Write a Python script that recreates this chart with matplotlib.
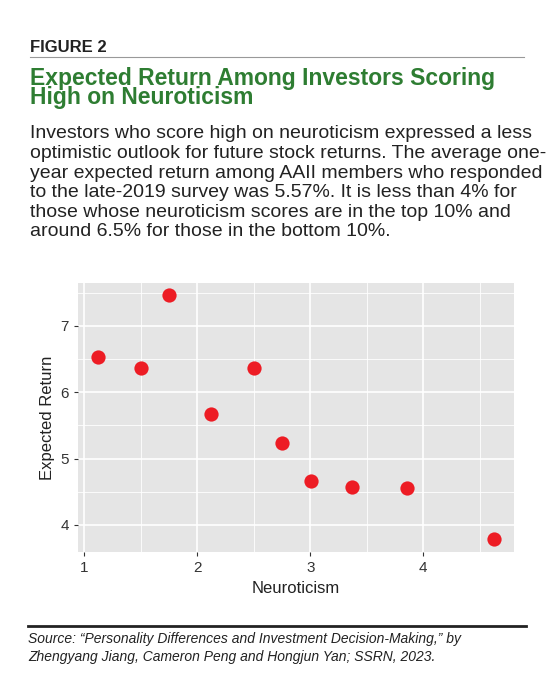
import matplotlib
matplotlib.use("Agg")
import matplotlib.pyplot as plt
from matplotlib.lines import Line2D

neuroticism = [1.118, 1.50, 1.752, 2.124, 2.50, 2.752, 3.003, 3.372, 3.861, 4.628]
expected_return = [6.53, 6.37, 7.46, 5.67, 6.37, 5.23, 4.66, 4.57, 4.56, 3.79]
xticks = [1, 2, 3, 4]
yticks = [4, 5, 6, 7]

plt.rcParams['font.family'] = ['Liberation Sans', 'DejaVu Sans']
W, H = 554, 688
fig = plt.figure(figsize=(W/100, H/100), dpi=100)

def fx(p): return p / W
def fy(p): return 1 - p / H

narrow = ['Liberation Sans Narrow', 'Liberation Sans', 'DejaVu Sans']
fig.text(fx(30), fy(47), "FIGURE 2", fontsize=12, fontweight='bold', va='center', color='#222')
fig.add_artist(Line2D([fx(30), fx(524)], [fy(57), fy(57)], color='#999', lw=0.8))
fig.text(fx(30), fy(88), "Expected Return Among Investors Scoring\nHigh on Neuroticism",
         fontsize=16.5, fontweight='bold', color='#2e7d32', va='center', linespacing=0.82,
         family=narrow, stretch='normal')
fig.text(fx(30), fy(183), "Investors who score high on neuroticism expressed a less\n"
         "optimistic outlook for future stock returns. The average one-\n"
         "year expected return among AAII members who responded\n"
         "to the late-2019 survey was 5.57%. It is less than 4% for\n"
         "those whose neuroticism scores are in the top 10% and\n"
         "around 6.5% for those in the bottom 10%.",
         fontsize=14, va='center', color='#222', linespacing=1.2, family=narrow)

ax = fig.add_axes([fx(77.7), fy(552), (514-77.7)/W, (552-283)/H])
ax.set_facecolor('#e5e5e5')
ax.scatter(neuroticism, expected_return, s=105, color='#ed1c24', zorder=3, linewidths=0)
ax.set_xlim(0.94, 4.805)
ax.set_ylim(3.593, 7.644)
ax.set_xticks(xticks)
ax.set_yticks(yticks)
ax.set_xticks([1.5, 2.5, 3.5, 4.5], minor=True)
ax.set_yticks([4.5, 5.5, 6.5, 7.5], minor=True)
ax.grid(True, which='major', color='white', lw=1.2)
ax.grid(True, which='minor', color='white', lw=0.6)
ax.set_axisbelow(True)
for s in ax.spines.values():
    s.set_visible(False)
ax.tick_params(which='major', length=3, color='#333', labelsize=11, labelcolor='#333')
ax.tick_params(which='minor', length=0)
ax.set_xlabel("Neuroticism", fontsize=12, color='#222')
ax.set_ylabel("Expected Return", fontsize=12, color='#222')

fig.add_artist(Line2D([fx(28), fx(526)], [fy(626), fy(626)], color='#222', lw=2))
fig.text(fx(28), fy(648), "Source: \u201cPersonality Differences and Investment Decision-Making,\u201d by\n"
         "Zhengyang Jiang, Cameron Peng and Hongjun Yan; SSRN, 2023.",
         fontsize=10, style='italic', va='center', color='#222', linespacing=1.3)

fig.savefig("out.png", dpi=100)
